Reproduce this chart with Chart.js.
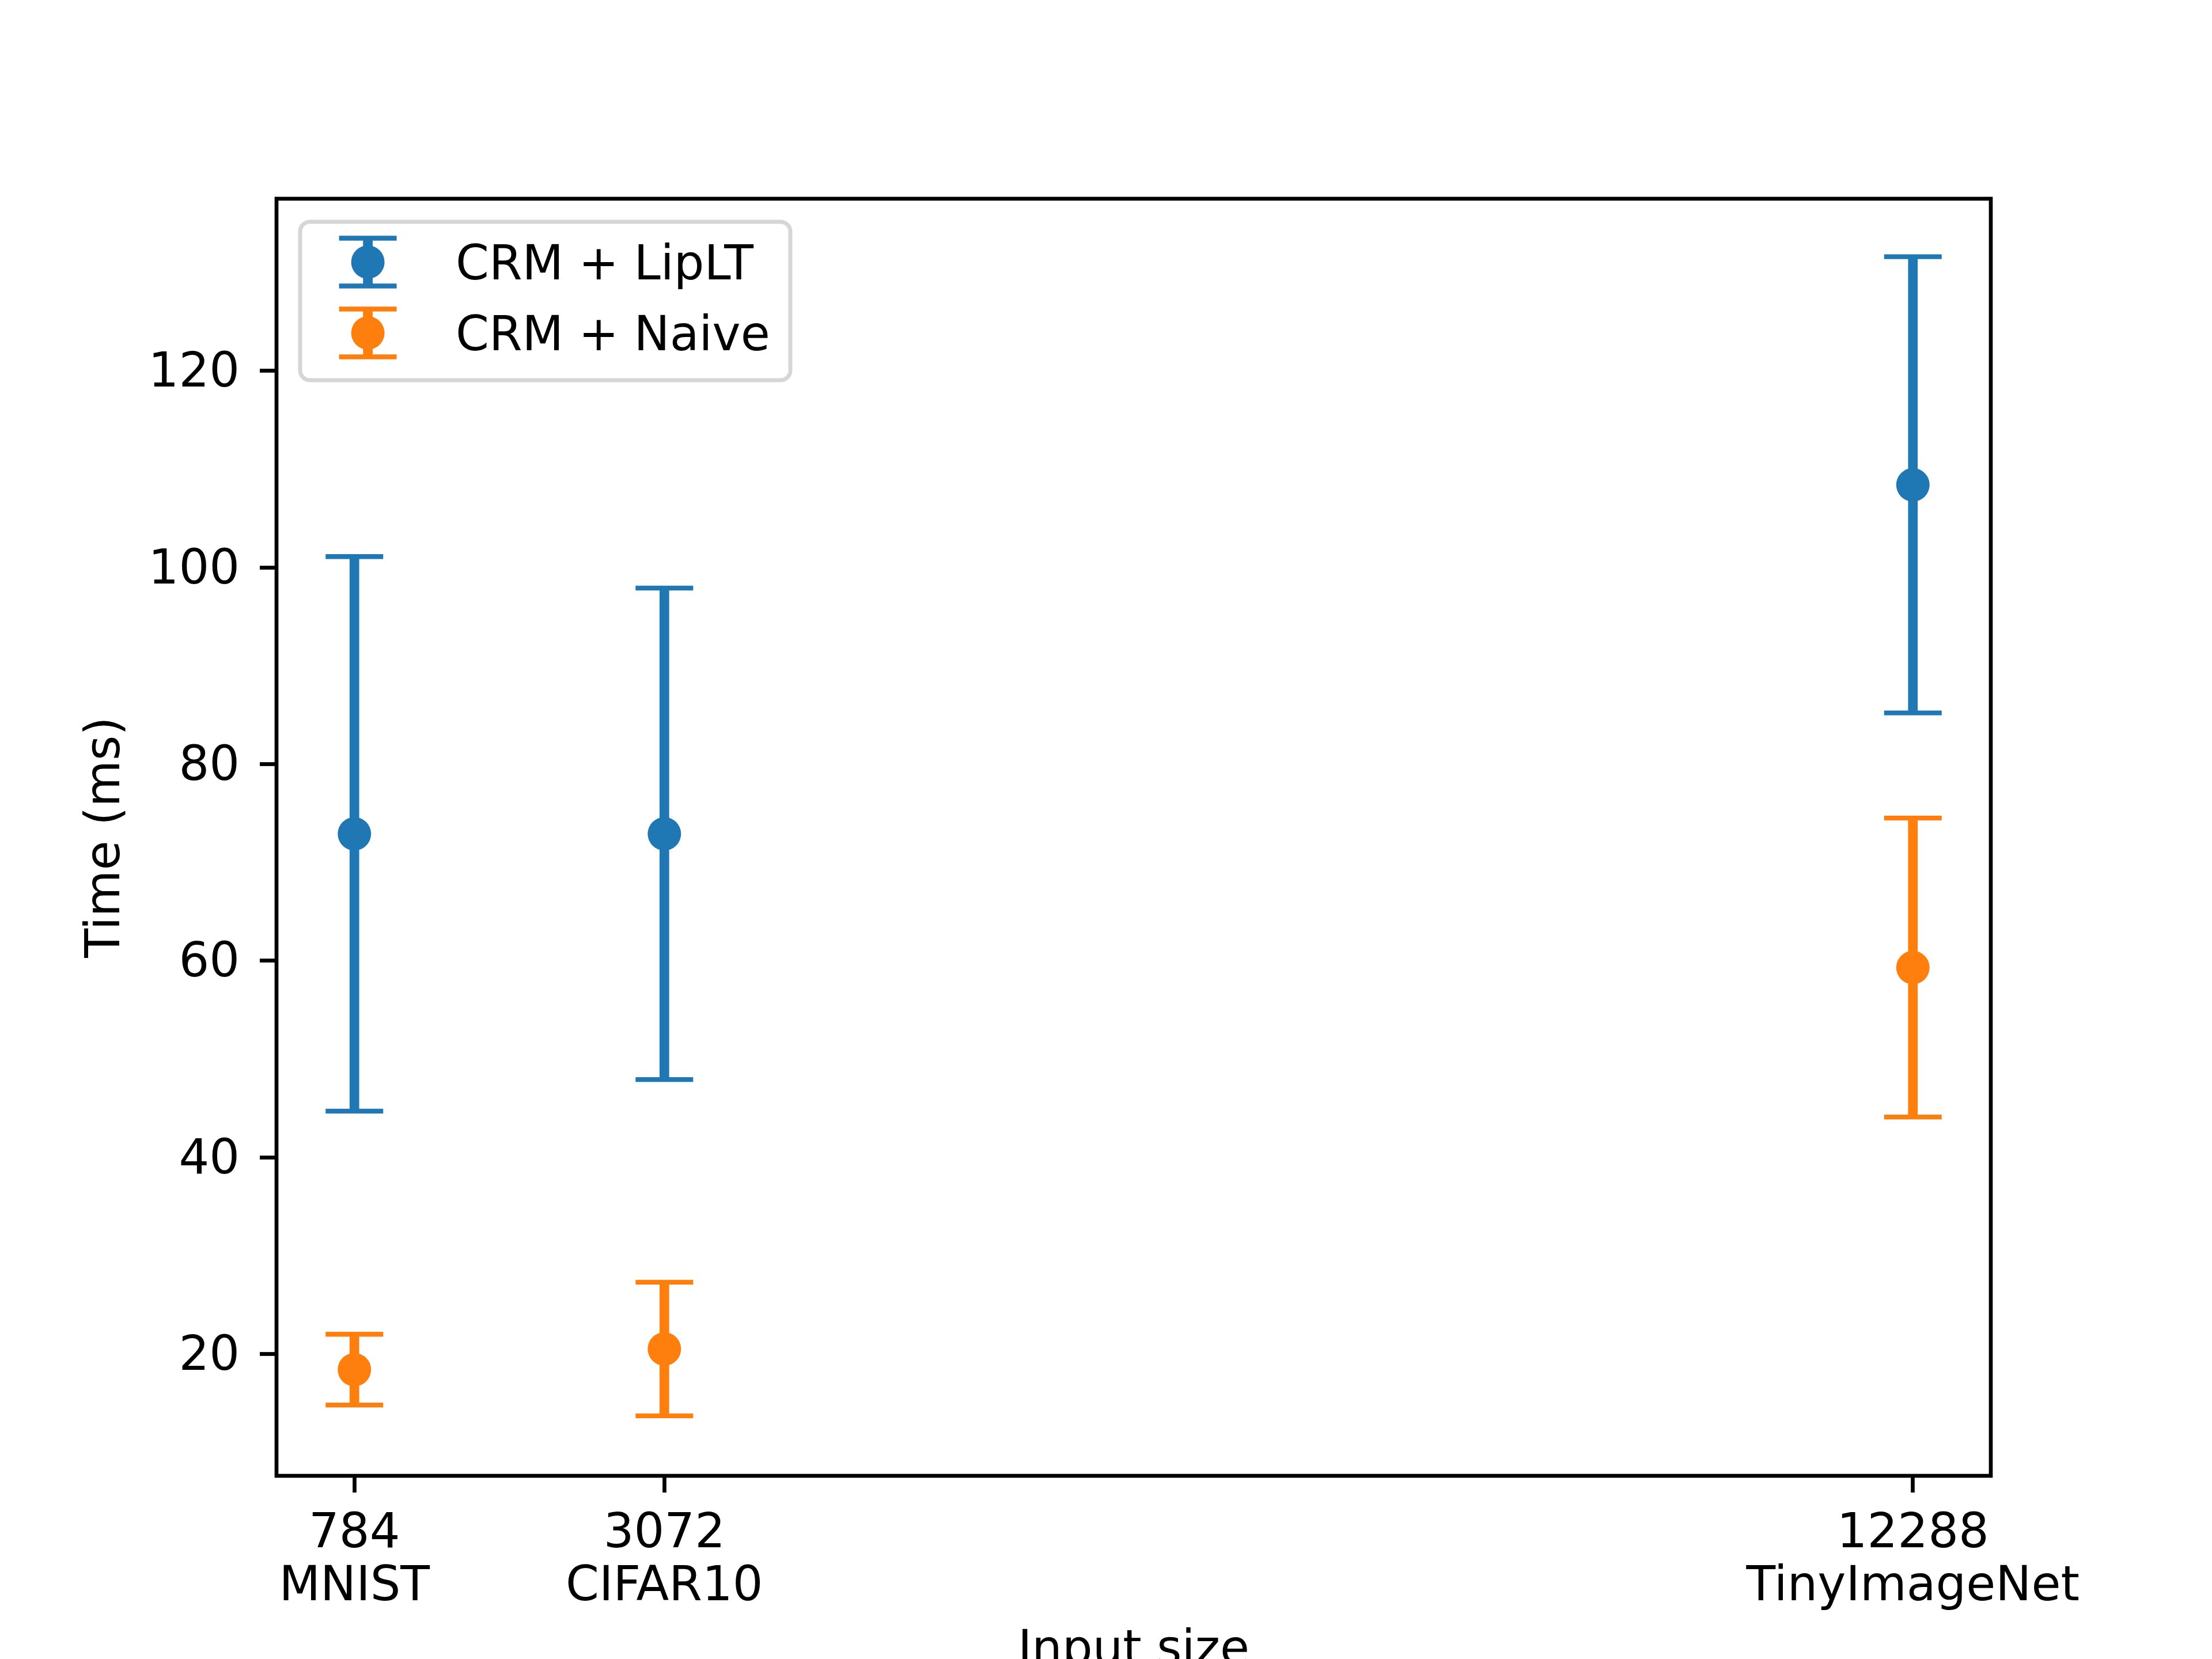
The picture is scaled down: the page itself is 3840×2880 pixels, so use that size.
<!DOCTYPE html>
<html>
<head>
<meta charset="utf-8">
<script src="https://cdn.jsdelivr.net/npm/chart.js@4.4.1/dist/chart.umd.min.js"></script>
<style>
  html, body { margin: 0; padding: 0; background: #ffffff; }
  #wrap { width: 3840px; height: 2880px; position: relative; }
</style>
</head>
<body>
<div id="wrap"><canvas id="timeChart"></canvas></div>
<script>
// ========== Data ==========
const datasetNames = ["MNIST", "CIFAR10", "TinyImageNet"];
const inputSizes = [784, 3072, 12288];
const lipltMean = [72.9, 72.9, 108.4];
const lipltErr = [28.2, 25.0, 23.2];
const naiveMean = [18.4, 20.5, 59.3];
const naiveErr = [3.6, 6.8, 15.2];
const yTicks = [20, 40, 60, 80, 100, 120];
const yLimits = [7.6, 137.5];
const xLimits = [209, 12863];

// ========== Style ==========
const FONT = "'DejaVu Sans', 'Liberation Sans', sans-serif";
const FONT_SIZE = 83;
const BLUE = "#1f77b4";
const ORANGE = "#ff7f0e";
const ERR_WIDTH = 16.7;
const CAP_WIDTH = 8.3;
const CAP_HALF = 50;
const SPINE_WIDTH = 6.7;

function toPoints(xs, ys) {
  return xs.map((x, i) => ({ x: x, y: ys[i] }));
}

// ========== Error bars (drawn under the markers) ==========
const errorBarPlugin = {
  id: "errorBars",
  beforeDatasetsDraw(chart) {
    const { ctx, scales } = chart;
    chart.data.datasets.forEach(ds => {
      ctx.save();
      ctx.strokeStyle = ds.backgroundColor;
      ctx.lineCap = "butt";
      ds.data.forEach((p, i) => {
        const px = scales.x.getPixelForValue(p.x);
        const top = scales.y.getPixelForValue(p.y + ds.errors[i]);
        const bot = scales.y.getPixelForValue(p.y - ds.errors[i]);
        ctx.lineWidth = ERR_WIDTH;
        ctx.beginPath();
        ctx.moveTo(px, top);
        ctx.lineTo(px, bot);
        ctx.stroke();
        ctx.lineWidth = CAP_WIDTH;
        [top, bot].forEach(cy => {
          ctx.beginPath();
          ctx.moveTo(px - CAP_HALF, cy);
          ctx.lineTo(px + CAP_HALF, cy);
          ctx.stroke();
        });
      });
      ctx.restore();
    });
  }
};

// ========== Frame (all four spines) ==========
const framePlugin = {
  id: "frame",
  afterDatasetsDraw(chart) {
    const { ctx, chartArea } = chart;
    ctx.save();
    ctx.strokeStyle = "#000000";
    ctx.lineWidth = SPINE_WIDTH;
    ctx.strokeRect(chartArea.left, chartArea.top,
      chartArea.right - chartArea.left, chartArea.bottom - chartArea.top);
    ctx.restore();
  }
};

// ========== Legend (matplotlib style, errorbar handles) ==========
const legendPlugin = {
  id: "mplLegend",
  afterDraw(chart) {
    const ctx = chart.ctx;
    const box = { x: 521, y: 385, w: 851, h: 275, r: 17 };
    ctx.save();
    ctx.beginPath();
    ctx.roundRect(box.x, box.y, box.w, box.h, box.r);
    ctx.fillStyle = "rgba(255,255,255,0.8)";
    ctx.fill();
    ctx.lineWidth = 7;
    ctx.strokeStyle = "#d6d6d6";
    ctx.stroke();

    const handleX = 638.6;
    const rows = [455, 578];
    chart.data.datasets.forEach((ds, i) => {
      const cy = rows[i];
      ctx.strokeStyle = ds.backgroundColor;
      ctx.fillStyle = ds.backgroundColor;
      ctx.lineWidth = ERR_WIDTH;
      ctx.beginPath();
      ctx.moveTo(handleX, cy - 41.5);
      ctx.lineTo(handleX, cy + 41.5);
      ctx.stroke();
      ctx.lineWidth = CAP_WIDTH;
      [cy - 41.5, cy + 41.5].forEach(yy => {
        ctx.beginPath();
        ctx.moveTo(handleX - CAP_HALF, yy);
        ctx.lineTo(handleX + CAP_HALF, yy);
        ctx.stroke();
      });
      ctx.beginPath();
      ctx.arc(handleX, cy, 29, 0, Math.PI * 2);
      ctx.fill();

      ctx.fillStyle = "#000000";
      ctx.font = FONT_SIZE + "px " + FONT;
      ctx.textAlign = "left";
      ctx.textBaseline = "alphabetic";
      ctx.fillText(ds.label, 791, cy + 30);
    });
    ctx.restore();
  }
};

// ========== Chart ==========
new Chart(document.getElementById("timeChart"), {
  type: "scatter",
  data: {
    datasets: [
      {
        label: "CRM + LipLT",
        data: toPoints(inputSizes, lipltMean),
        errors: lipltErr,
        backgroundColor: BLUE,
        borderColor: BLUE,
        pointRadius: 29,
        pointBorderWidth: 0
      },
      {
        label: "CRM + Naive",
        data: toPoints(inputSizes, naiveMean),
        errors: naiveErr,
        backgroundColor: ORANGE,
        borderColor: ORANGE,
        pointRadius: 29,
        pointBorderWidth: 0
      }
    ]
  },
  options: {
    responsive: true,
    maintainAspectRatio: false,
    devicePixelRatio: 1,
    animation: false,
    events: [],
    layout: { padding: { top: 345, right: 384, bottom: 0, left: 0 } },
    plugins: {
      legend: { display: false },
      tooltip: { enabled: false }
    },
    scales: {
      x: {
        type: "linear",
        min: xLimits[0],
        max: xLimits[1],
        afterBuildTicks: scale => { scale.ticks = inputSizes.map(v => ({ value: v })); },
        afterFit: scale => { scale.height = 318; },
        border: { display: false },
        grid: {
          drawOnChartArea: false,
          drawTicks: true,
          tickLength: 29,
          tickWidth: SPINE_WIDTH,
          tickColor: "#000000"
        },
        ticks: {
          padding: 28,
          color: "#000000",
          font: { family: FONT, size: FONT_SIZE, lineHeight: 1.1 },
          maxRotation: 0,
          autoSkip: false,
          callback: v => {
            const i = inputSizes.indexOf(v);
            return i >= 0 ? [String(v), datasetNames[i]] : "";
          }
        },
        title: {
          display: true,
          text: "Input size",
          color: "#000000",
          font: { family: FONT, size: FONT_SIZE, lineHeight: 0.3 },
          padding: { top: 0, bottom: 0 }
        }
      },
      y: {
        type: "linear",
        min: yLimits[0],
        max: yLimits[1],
        afterBuildTicks: scale => { scale.ticks = yTicks.map(v => ({ value: v })); },
        afterFit: scale => { scale.width = 480; },
        border: { display: false },
        grid: {
          drawOnChartArea: false,
          drawTicks: true,
          tickLength: 29,
          tickWidth: SPINE_WIDTH,
          tickColor: "#000000"
        },
        ticks: {
          padding: 35,
          labelOffset: 6,
          color: "#000000",
          font: { family: FONT, size: FONT_SIZE },
          callback: v => String(v)
        },
        title: {
          display: true,
          text: "Time (ms)",
          color: "#000000",
          font: { family: FONT, size: FONT_SIZE, lineHeight: 1.2 },
          padding: { top: 136, bottom: 0 }
        }
      }
    }
  },
  plugins: [errorBarPlugin, framePlugin, legendPlugin]
});
</script>
</body>
</html>
